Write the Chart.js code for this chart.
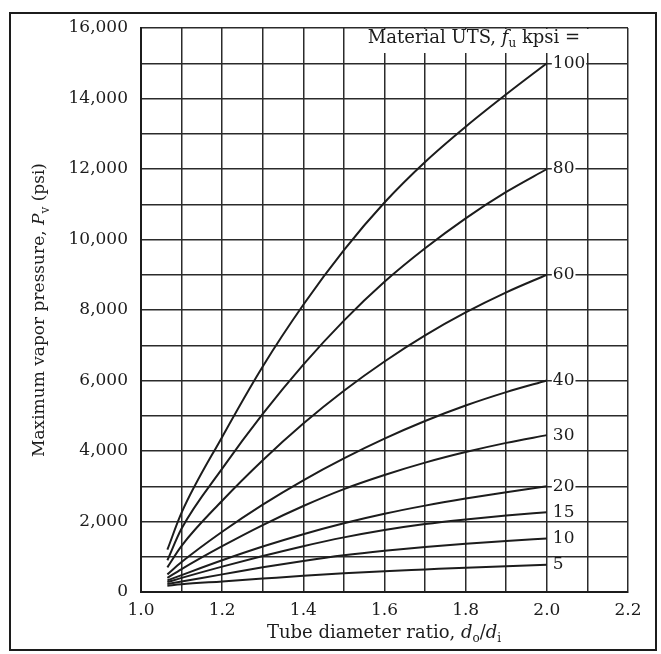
<!DOCTYPE html>
<html>
<head>
<meta charset="utf-8">
<script src="https://cdn.jsdelivr.net/npm/chart.js@4"></script>
<style>
  body { margin: 0; background: #fff; }
  canvas { display: block; }
</style>
</head>
<body>
<canvas id="pressureChart" width="661" height="654"></canvas>
<script>
// ===================== Data ===================

// tube diameter ratio d_o/d_i where each curve was read
const ratios = [1.065, 1.1, 1.2, 1.3, 1.4, 1.5, 1.6, 1.7, 1.8, 1.9, 2.0];

// material UTS of each curve, kpsi
const utsLevels = [100, 80, 60, 40, 30, 20, 15, 10, 5];

// maximum vapor pressure (psi) for each UTS, one value per ratio
const pressure100 = [1200, 2250, 4400, 6400, 8150, 9700, 11050, 12200, 13200, 14120, 15000];
const pressure80 = [900, 1800, 3500, 5050, 6450, 7700, 8800, 9750, 10600, 11350, 12000];
const pressure60 = [700, 1310, 2590, 3740, 4780, 5710, 6540, 7280, 7930, 8500, 9000];
const pressure40 = [500, 850, 1710, 2480, 3170, 3790, 4350, 4850, 5290, 5670, 6000];
const pressure30 = [400, 650, 1300, 1900, 2440, 2920, 3320, 3670, 3970, 4230, 4450];
const pressure20 = [330, 480, 900, 1290, 1640, 1950, 2220, 2450, 2650, 2830, 3000];
const pressure15 = [280, 400, 720, 1020, 1300, 1550, 1760, 1930, 2060, 2170, 2260];
const pressure10 = [230, 300, 500, 700, 880, 1040, 1170, 1280, 1370, 1450, 1520];
const pressure5 = [180, 220, 300, 380, 460, 530, 590, 640, 690, 730, 770];

const pressureSeries = [
  pressure100, pressure80, pressure60, pressure40, pressure30,
  pressure20, pressure15, pressure10, pressure5
];

// ===================== Text helpers ===================

const SERIF = '"DejaVu Serif", "Liberation Serif", serif';
const INK = '#1c1c1c';

function pieceFont(piece, size) {
  const px = piece.sub ? Math.round(size * 0.68) : size;
  return (piece.italic ? 'italic ' : '') + px + 'px ' + SERIF;
}

// draws a run of text pieces (italic / subscript) centred on cx, cy
function drawRichText(ctx, pieces, cx, cy, size) {
  let total = 0;
  pieces.forEach(p => {
    ctx.font = pieceFont(p, size);
    total += ctx.measureText(p.text).width;
  });
  let x = cx - total / 2;
  ctx.textBaseline = 'middle';
  ctx.textAlign = 'left';
  pieces.forEach(p => {
    ctx.font = pieceFont(p, size);
    ctx.fillText(p.text, x, cy + (p.sub ? size * 0.32 : 0));
    x += ctx.measureText(p.text).width;
  });
  return total;
}

const yTitle = [
  { text: 'Maximum vapor pressure, ' },
  { text: 'P', italic: true },
  { text: 'v', sub: true },
  { text: ' (psi)' }
];

const xTitle = [
  { text: 'Tube diameter ratio, ' },
  { text: 'd', italic: true },
  { text: 'o', sub: true },
  { text: '/' },
  { text: 'd', italic: true },
  { text: 'i', sub: true }
];

const legendTitle = [
  { text: 'Material UTS, ' },
  { text: 'f', italic: true },
  { text: 'u', sub: true },
  { text: ' kpsi =' }
];

// ===================== Plugins ===================

const curveLabels = {
  id: 'curveLabels',
  afterDatasetsDraw(chart) {
    const ctx = chart.ctx;
    ctx.save();
    ctx.font = '17px ' + SERIF;
    ctx.textBaseline = 'middle';
    ctx.textAlign = 'left';
    chart.data.datasets.forEach((ds, i) => {
      const meta = chart.getDatasetMeta(i);
      const last = meta.data[meta.data.length - 1];
      const w = ctx.measureText(ds.label).width;
      const x = last.x + 6;
      ctx.fillStyle = '#fff';
      ctx.fillRect(x - 1, last.y - 7, w + 2, 14);
      ctx.fillStyle = INK;
      ctx.fillText(ds.label, x, last.y);
    });

    // heading over the curve labels, masking the grid behind it
    const area = chart.chartArea;
    ctx.fillStyle = '#fff';
    ctx.fillRect(356, area.top + 1, 236, 24);
    ctx.fillStyle = INK;
    drawRichText(ctx, legendTitle, 474, area.top + 10, 18);
    ctx.restore();
  }
};

const frameAndTitles = {
  id: 'frameAndTitles',
  afterDraw(chart) {
    const ctx = chart.ctx;
    ctx.save();
    ctx.strokeStyle = INK;
    ctx.lineWidth = 2;
    ctx.strokeRect(10, 13, 646, 637);

    ctx.fillStyle = INK;
    drawRichText(ctx, xTitle, 384, 633, 18);

    ctx.translate(40, 310);
    ctx.rotate(-Math.PI / 2);
    drawRichText(ctx, yTitle, 0, 0, 17);
    ctx.restore();
  }
};

// ===================== Chart ===================

function buildDatasets() {
  return utsLevels.map((uts, i) => ({
    label: String(uts),
    data: ratios.map((r, j) => ({ x: r, y: pressureSeries[i][j] })),
    showLine: true,
    borderColor: INK,
    borderWidth: 2,
    pointRadius: 0,
    cubicInterpolationMode: 'monotone',
    fill: false
  }));
}

const gridStyle = {
  color: '#2b2b2b',
  lineWidth: 1.5,
  drawTicks: false
};

function drawChart() {
  const ctx = document.getElementById('pressureChart');

  new Chart(ctx, {
    type: 'scatter',
    data: { datasets: buildDatasets() },
    plugins: [curveLabels, frameAndTitles],
    options: {
      responsive: false,
      animation: false,
      layout: { padding: { top: 28, right: 33, left: 0, bottom: 0 } },
      plugins: {
        legend: { display: false },
        tooltip: { enabled: false }
      },
      scales: {
        x: {
          type: 'linear',
          min: 1.0,
          max: 2.2,
          grid: gridStyle,
          border: { display: true, color: INK, width: 2 },
          afterFit: scale => { scale.height = 62; },
          ticks: {
            stepSize: 0.1,
            autoSkip: false,
            maxRotation: 0,
            padding: 8,
            color: INK,
            font: { family: SERIF, size: 17 },
            callback: value => (Math.round(value * 10) % 2 === 0 ? value.toFixed(1) : '')
          }
        },
        y: {
          min: 0,
          max: 16000,
          grid: gridStyle,
          border: { display: true, color: INK, width: 2 },
          afterFit: scale => { scale.width = 141; },
          ticks: {
            stepSize: 1000,
            autoSkip: false,
            padding: 13,
            color: INK,
            font: { family: SERIF, size: 17 },
            callback: value => (value % 2000 === 0 ? value.toLocaleString('en-US') : '')
          }
        }
      }
    }
  });
}

document.addEventListener('DOMContentLoaded', () => {
  drawChart();
});
</script>
</body>
</html>
